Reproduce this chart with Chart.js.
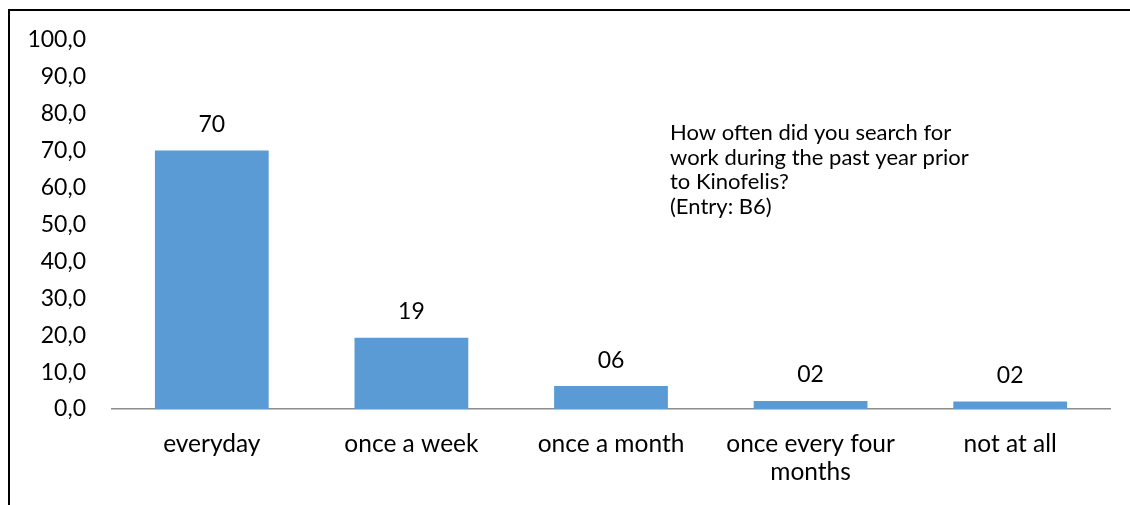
<!DOCTYPE html>
<html>
<head>
<meta charset="utf-8">
<script src="https://cdn.jsdelivr.net/npm/chart.js@4"></script>
<style>
  html, body { margin: 0; padding: 0; background: #fff; overflow: hidden; }
  #wrap { position: relative; width: 1130px; height: 505px; }
  #frame { position: absolute; left: 8px; top: 9px; width: 1200px; height: 600px; border: 2px solid #000; box-sizing: border-box; }
  canvas { position: absolute; left: 0; top: 0; }
</style>
</head>
<body>
<div id="wrap">
  <div id="frame"></div>
  <canvas id="chart" width="1130" height="505"></canvas>
</div>
<script>
const categories = ['everyday', 'once a week', 'once a month', ['once every four', 'months'], 'not at all'];
const shares = [70.0, 19.3, 6.2, 2.2, 2.0];
const yTicks = [0, 10, 20, 30, 40, 50, 60, 70, 80, 90, 100];
const note = ['How often did you search for', 'work during the past year prior', 'to Kinofelis?', '(Entry: B6)'];

const FONT = 'Lato, "Open Sans", sans-serif';

// value labels above bars + the question text
const labelPlugin = {
  id: 'barLabels',
  afterDatasetsDraw(chart) {
    const ctx = chart.ctx;
    const meta = chart.getDatasetMeta(0);
    ctx.save();
    ctx.fillStyle = '#000';
    ctx.font = '23px ' + FONT;
    ctx.textAlign = 'center';
    ctx.textBaseline = 'middle';
    meta.data.forEach((bar, i) => {
      const txt = String(Math.round(shares[i])).padStart(2, '0');
      ctx.fillText(txt, bar.x, bar.y - 26);
    });
    ctx.font = '22px ' + FONT;
    ctx.textAlign = 'left';
    note.forEach((line, i) => {
      ctx.fillText(line, 670, 133 + i * 24.7);
    });
    ctx.restore();
  }
};

new Chart(document.getElementById('chart'), {
  type: 'bar',
  data: {
    labels: categories,
    datasets: [{
      data: shares,
      backgroundColor: '#5B9BD5',
      borderWidth: 0,
      categoryPercentage: 1,
      barPercentage: 0.57
    }]
  },
  options: {
    responsive: false,
    animation: false,
    layout: { padding: { top: 39, right: 20, left: 0, bottom: 0 } },
    plugins: { legend: { display: false }, tooltip: { enabled: false }, title: { display: false } },
    scales: {
      x: {
        grid: { display: false, drawTicks: false },
        border: { display: true, color: '#8c8c8c', width: 1.5 },
        ticks: { color: '#000', font: { family: FONT, size: 24.5, lineHeight: 1.14 }, padding: 21, maxRotation: 0 },
        afterFit(scale) { scale.height = 96; }
      },
      y: {
        min: 0,
        max: 100,
        afterBuildTicks(scale) { scale.ticks = yTicks.map(v => ({ value: v })); },
        grid: { display: false, drawTicks: false },
        border: { display: false },
        ticks: {
          color: '#000',
          font: { family: FONT, size: 23 },
          padding: 26,
          callback: v => v.toFixed(1).replace('.', ',')
        },
        afterFit(scale) { scale.width = 112; }
      }
    }
  },
  plugins: [labelPlugin]
});
</script>
</body>
</html>
